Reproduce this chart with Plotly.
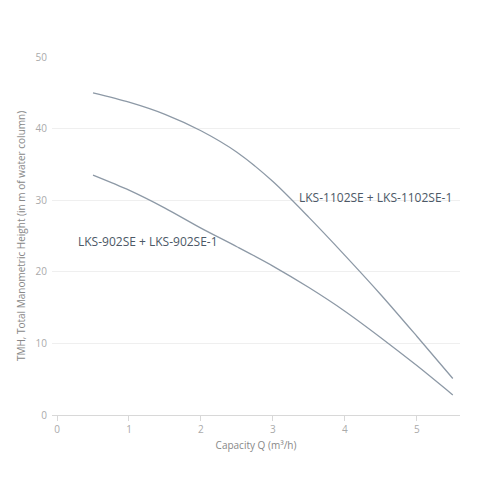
import plotly.graph_objects as go

capacity = [0.5, 1.0, 1.5, 2.0, 2.5, 3.0, 3.5, 4.0, 4.5, 5.0, 5.5]
head_1102 = [45.0, 43.7, 42.0, 39.7, 36.7, 32.6, 27.6, 22.3, 16.8, 11.0, 5.1]
head_902 = [33.5, 31.4, 28.9, 26.1, 23.5, 20.8, 17.8, 14.5, 10.8, 6.9, 2.8]

label_1102 = "LKS-1102SE + LKS-1102SE-1"
label_902 = "LKS-902SE + LKS-902SE-1"

line_col = "#8d99a6"
font_fam = "Open Sans, DejaVu Sans, sans-serif"

fig = go.Figure()

for name, ys in [(label_1102, head_1102), (label_902, head_902)]:
    fig.add_trace(go.Scatter(x=capacity, y=ys, name=name, mode="lines",
                             line=dict(color=line_col, width=1.3, shape="spline", smoothing=0.8)))

fig.add_annotation(x=4.43, y=30.4, text=label_1102, showarrow=False,
                   font=dict(family=font_fam, size=12, color="#4c5866"))
fig.add_annotation(x=1.26, y=24.3, text=label_902, showarrow=False,
                   font=dict(family=font_fam, size=12, color="#4c5866"))

# page body adds 8px offset, margins compensate
fig.update_layout(width=500, height=500,
                  margin=dict(l=44, r=48, t=49, b=93),
                  plot_bgcolor="white", paper_bgcolor="white",
                  showlegend=False,
                  font=dict(family=font_fam, size=10, color="#aaaaaa"))

fig.update_xaxes(range=[-0.07, 5.6], tickvals=[0, 1, 2, 3, 4, 5],
                 showgrid=False, zeroline=False, automargin=False,
                 showline=True, linecolor="#d8d8d8", linewidth=1,
                 ticks="outside", ticklen=5, tickcolor="#d8d8d8",
                 title=dict(text="Capacity Q (m³/h)", font=dict(size=10, color="#888888"), standoff=6))
fig.update_yaxes(range=[0, 50], tickvals=[0, 10, 20, 30, 40, 50],
                 showgrid=True, gridcolor="#efefef", zeroline=False,
                 showline=False, automargin=False, ticklabelstandoff=4,
                 title=dict(text="TMH, Total Manometric Height (in m of water column)",
                            font=dict(size=10, color="#888888"), standoff=8))

fig.write_html("out.html")
